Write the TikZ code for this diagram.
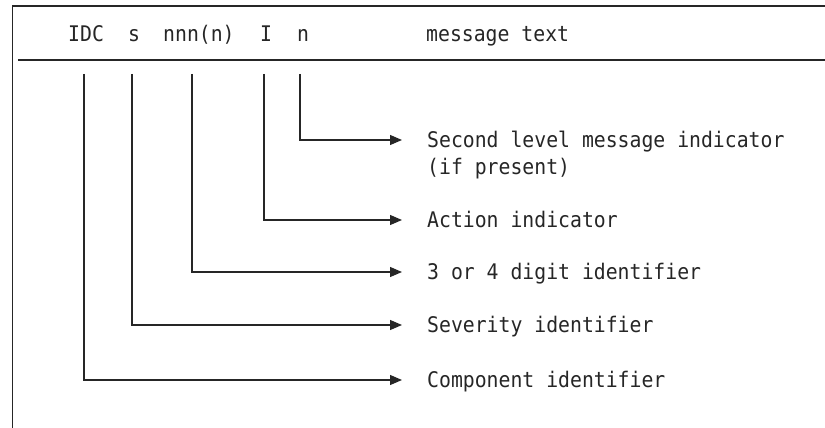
\documentclass[tikz,border=0pt]{standalone}
\usepackage{fontspec}
\setmonofont[FakeStretch=0.92]{DejaVu Sans Mono}
\usetikzlibrary{arrows.meta,calc}
\begin{document}
\begin{tikzpicture}[x=1pt,y=-1pt,
  rule/.style={line width=1.3pt, black!85},
  conn/.style={line width=1.2pt, black!85, -{Triangle[length=12pt,width=10pt]}},
  lbl/.style={font=\ttfamily\fontsize{21.5}{27}\selectfont, inner sep=0pt, anchor=base west, text=black!85},
]
\useasboundingbox (0,0) rectangle (825,428);
% frame
\draw[rule] (825,6) -- (12.7,6) -- (12.7,428);
\draw[rule] (18,60) -- (825,60);
% header fields
\node[lbl] (fidc) at (68,42) {IDC};
\node[lbl] (fs) at (128,42) {s};
\node[lbl] (fnnn) at (163,42) {nnn(n)};
\node[lbl] (fI) at (260,42) {I};
\node[lbl] (fn) at (297,42) {n};
\node[lbl] (fmsg) at (426,42) {message text};
% start points of connectors
\coordinate (sidc) at (84,74);
\coordinate (ss) at (132,74);
\coordinate (snnn) at (192,74);
\coordinate (sI) at (264,74);
\coordinate (sn) at (300,74);
% labels
\node[lbl] (lsec) at (427,147) {Second level message indicator};
\node[lbl] (lsec2) at (427,174) {(if present)};
\node[lbl] (lact) at (427,227) {Action indicator};
\node[lbl] (ldig) at (427,279) {3 or 4 digit identifier};
\node[lbl] (lsev) at (427,332) {Severity identifier};
\node[lbl] (lcomp) at (427,387) {Component identifier};
% connectors
\draw[conn] (sn) |- ($(lsec.base west)+(-25,-7)$);
\draw[conn] (sI) |- ($(lact.base west)+(-25,-7)$);
\draw[conn] (snnn) |- ($(ldig.base west)+(-25,-7)$);
\draw[conn] (ss) |- ($(lsev.base west)+(-25,-7)$);
\draw[conn] (sidc) |- ($(lcomp.base west)+(-25,-7)$);
\end{tikzpicture}
\end{document}
